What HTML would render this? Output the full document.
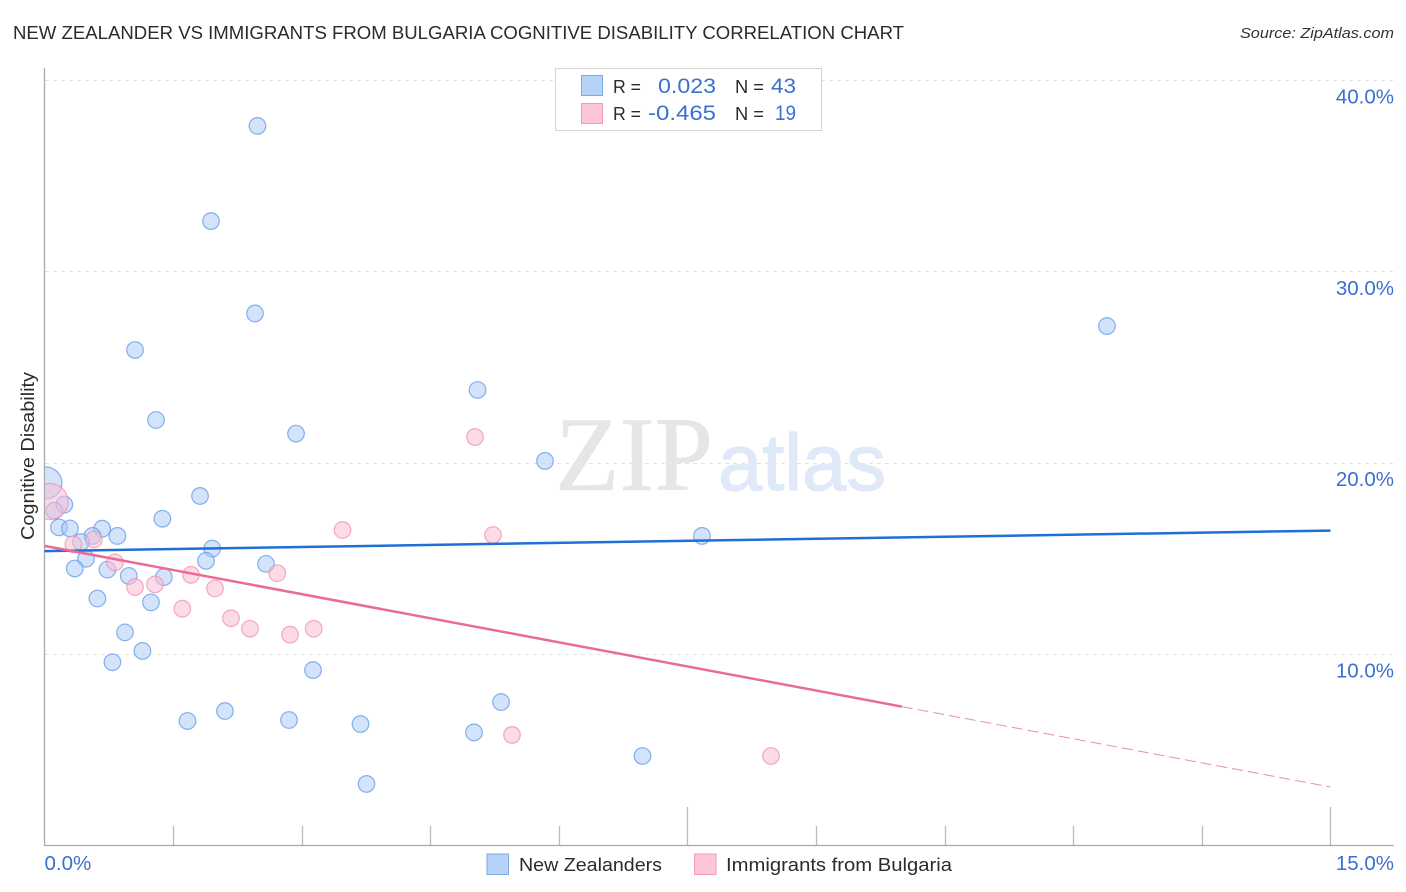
<!DOCTYPE html>
<html lang="en">
<head>
<meta charset="utf-8">
<title>New Zealander vs Immigrants from Bulgaria Cognitive Disability Correlation Chart</title>
<style>
html,body{margin:0;padding:0;background:#fff;width:1406px;height:892px;overflow:hidden}
svg{display:block;font-family:"Liberation Sans",sans-serif}
</style>
</head>
<body>
<svg id="chart" width="1406" height="892" viewBox="0 0 1406 892" xmlns="http://www.w3.org/2000/svg">
  <defs>
    <clipPath id="plot-clip"><rect x="45" y="60" width="1349" height="785"/></clipPath>
  </defs>
  <rect width="1406" height="892" fill="#ffffff"/>
  <text x="13" y="39" font-size="18.5" fill="#2b2b2b" textLength="891" lengthAdjust="spacingAndGlyphs">NEW ZEALANDER VS IMMIGRANTS FROM BULGARIA COGNITIVE DISABILITY CORRELATION CHART</text>
  <text x="1394" y="38" font-size="15" font-style="italic" fill="#333" text-anchor="end" textLength="154" lengthAdjust="spacingAndGlyphs">Source: ZipAtlas.com</text>
  <g id="grid"></g>
  <g id="watermark">
    <text x="555" y="490" font-family="'Liberation Serif',serif" font-size="106" fill="#e6e6e6" stroke="#e6e6e6" stroke-width="0.6" textLength="158" lengthAdjust="spacingAndGlyphs">ZIP</text>
    <text x="718" y="490" font-size="80" fill="#dfe9f8" stroke="#dfe9f8" stroke-width="1.2" textLength="168" lengthAdjust="spacingAndGlyphs">atlas</text>
  </g>
  <g id="axes"></g>
  <g id="points" clip-path="url(#plot-clip)"></g>
  <g id="trends"></g>
  <text transform="translate(34,456) rotate(-90)" font-size="18" fill="#2b2b2b" text-anchor="middle" textLength="168" lengthAdjust="spacingAndGlyphs">Cognitive Disability</text>
  <g id="y-labels"></g>
  <g id="x-labels"></g>

  <g>
    <rect x="555.5" y="68.5" width="266" height="62" fill="#fff" stroke="#d4d4d4" stroke-width="1"/>
    <rect x="581.5" y="75.5" width="21" height="20" fill="#b7d2f7" stroke="#7faae6"/>
    <rect x="581.5" y="103.5" width="21" height="20" fill="#fcc6d8" stroke="#f09ab8"/>
    <text x="613" y="93" font-size="18" fill="#2b2b2b" textLength="28" lengthAdjust="spacingAndGlyphs">R =</text>
    <text x="658" y="93" font-size="21" fill="#3a70d2" textLength="58" lengthAdjust="spacingAndGlyphs">0.023</text>
    <text x="735" y="93" font-size="18" fill="#2b2b2b" textLength="29" lengthAdjust="spacingAndGlyphs">N =</text>
    <text x="771" y="93" font-size="21" fill="#3a70d2" textLength="25" lengthAdjust="spacingAndGlyphs">43</text>
    <text x="613" y="120" font-size="18" fill="#2b2b2b" textLength="28" lengthAdjust="spacingAndGlyphs">R =</text>
    <text x="648" y="120" font-size="21" fill="#3a70d2" textLength="68" lengthAdjust="spacingAndGlyphs">-0.465</text>
    <text x="735" y="120" font-size="18" fill="#2b2b2b" textLength="29" lengthAdjust="spacingAndGlyphs">N =</text>
    <text x="775" y="120" font-size="21" fill="#3a70d2" textLength="21" lengthAdjust="spacingAndGlyphs">19</text>
  </g>

  <g>
    <rect x="487" y="854" width="21.5" height="20.5" fill="#b7d2f7" stroke="#7faae6"/>
    <text x="519" y="871" font-size="18.5" fill="#2b2b2b" textLength="143" lengthAdjust="spacingAndGlyphs">New Zealanders</text>
    <rect x="694.5" y="854" width="21.5" height="20.5" fill="#fcc6d8" stroke="#f09ab8"/>
    <text x="726" y="871" font-size="18.5" fill="#2b2b2b" textLength="226" lengthAdjust="spacingAndGlyphs">Immigrants from Bulgaria</text>
  </g>
</svg>
<script>
// Data values (percent units)
const blueX = [2.484,1.942,2.455,12.393,1.056,5.051,1.301,2.934,5.838,0.017,1.814,0.231,0.114,1.375,0.169,0.297,0.673,0.560,0.850,7.669,0.426,1.956,0.484,1.884,2.584,0.353,0.734,0.983,1.392,0.617,1.242,0.939,1.142,0.792,3.132,5.325,2.105,1.668,2.852,3.686,5.010,6.975,3.756];
const blueY = [37.60,32.63,27.80,27.14,25.89,23.80,22.23,21.52,20.09,18.94,18.26,17.81,17.49,17.07,16.62,16.56,16.55,16.17,16.17,16.17,15.85,15.51,14.98,14.87,14.71,14.47,14.41,14.08,14.02,12.90,12.70,11.13,10.16,9.57,9.16,7.49,7.02,6.50,6.55,6.34,5.90,4.67,3.21];
const blueWeight = [1,1,1,1,1,1,1,1,1,3.7,1,1,1,1,1,1,1,1,1,1,1,1,1,1,1,1,1,1,1,1,1,1,1,1,1,1,1,1,1,1,1,1,1];
const pinkX = [0.064,0.336,0.577,0.822,1.056,1.289,1.709,1.989,1.607,2.175,2.397,2.864,3.140,2.715,3.476,5.021,5.231,5.453,8.474];
const pinkY = [17.97,15.73,15.99,14.79,13.50,13.64,14.14,13.43,12.37,11.87,11.32,11.01,11.32,14.22,16.48,21.34,16.22,5.77,4.67];
const pinkWeight = [4.7,1,1,1,1,1,1,1,1,1,1,1,1,1,1,1,1,1,1];
const blueTrendX = [0,15];
const blueTrendY = [15.38,16.45];
const pinkTrendX = [0,10];
const pinkTrendY = [15.65,7.25];
const pinkForecastX = [10,15];
const pinkForecastY = [7.25,3.05];
const yTicks = [10,20,30,40];
const yTickLabels = ['10.0%','20.0%','30.0%','40.0%'];
const xTicks = [1.5,3,4.5,6,7.5,9,10.5,12,13.5,15];
const xTickLabels = ['0.0%','15.0%'];

// Axis functions
function xScale(v){ return 44.5 + v * 85.733; }
function yScale(v){ return 654 - (v - 10) * 19.133; }
function radius(w){ return 8.3 * Math.sqrt(w); }

const NS = 'http://www.w3.org/2000/svg';
function make(tag, attrs, parent){
  const el = document.createElementNS(NS, tag);
  for (const k in attrs) el.setAttribute(k, attrs[k]);
  parent.appendChild(el);
  return el;
}

const gridG = document.getElementById('grid');
const axesG = document.getElementById('axes');
const pointsG = document.getElementById('points');
const trendsG = document.getElementById('trends');
const yLabelsG = document.getElementById('y-labels');
const xLabelsG = document.getElementById('x-labels');

yTicks.forEach(function(t, i){
  const y = Math.round(yScale(t)) + 0.5;
  const line = make('line', {x1:45, x2:1394, y1:y, y2:y, stroke:'#e2e2e2', 'stroke-width':1, 'stroke-dasharray':'4 4'}, gridG);
  
  
  const label = make('text', {x:1394, y:yScale(t) + 23.5, 'font-size':20.5, fill:'#3a70d2', 'text-anchor':'end'}, yLabelsG);
  
  
  label.textContent = yTickLabels[i];
});

const yAxis = make('line', {x1:44.5, x2:44.5, y1:68, y2:846, stroke:'#aaaaaa', 'stroke-width':1.3}, axesG);


const xAxis = make('line', {x1:44, x2:1394, y1:845.5, y2:845.5, stroke:'#aaaaaa', 'stroke-width':1.3}, axesG);



xTicks.forEach(function(t){
  const x = Math.round(xScale(t)) + 0.5;
  const major = (t === 7.5 || t === 15);
  const tick = make('line', {x1:x, x2:x, y1:major ? 807 : 826, y2:845, stroke:'#bbbbbb', 'stroke-width':1.3}, axesG);
  
  
});

const xLabelLeft = make('text', {x:xScale(0), y:870, 'font-size':20.5, fill:'#3a70d2'}, xLabelsG);


xLabelLeft.textContent = xTickLabels[0];
const xLabelRight = make('text', {x:1394, y:870, 'font-size':20.5, fill:'#3a70d2', 'text-anchor':'end'}, xLabelsG);


xLabelRight.textContent = xTickLabels[1];

blueX.forEach(function(v, i){
  const c = make('circle', {cx:xScale(v), cy:yScale(blueY[i]), r:radius(blueWeight[i]), fill:'#a9caf6', 'fill-opacity':0.52, stroke:'#5f9ae8', 'stroke-opacity':0.75, 'stroke-width':1.2}, pointsG);
  
  
});
pinkX.forEach(function(v, i){
  const c = make('circle', {cx:xScale(v), cy:yScale(pinkY[i]), r:radius(pinkWeight[i]), fill:'#f9bdd2', 'fill-opacity':0.55, stroke:'#ee8fb0', 'stroke-opacity':0.75, 'stroke-width':1.2}, pointsG);
  
  
});

const blueTrend = make('line', {x1:xScale(blueTrendX[0]), x2:xScale(blueTrendX[1]), y1:yScale(blueTrendY[0]), y2:yScale(blueTrendY[1]), stroke:'#1f6fd6', 'stroke-width':2.5}, trendsG);


const pinkTrend = make('line', {x1:xScale(pinkTrendX[0]), x2:xScale(pinkTrendX[1]), y1:yScale(pinkTrendY[0]), y2:yScale(pinkTrendY[1]), stroke:'#ea6a9a', 'stroke-width':2.5}, trendsG);


const pinkForecast = make('line', {x1:xScale(pinkForecastX[0]), x2:xScale(pinkForecastX[1]), y1:yScale(pinkForecastY[0]), y2:yScale(pinkForecastY[1]), stroke:'#e58fb0', 'stroke-width':1, 'stroke-dasharray':'11 5'}, trendsG);


</script>
</body>
</html>
